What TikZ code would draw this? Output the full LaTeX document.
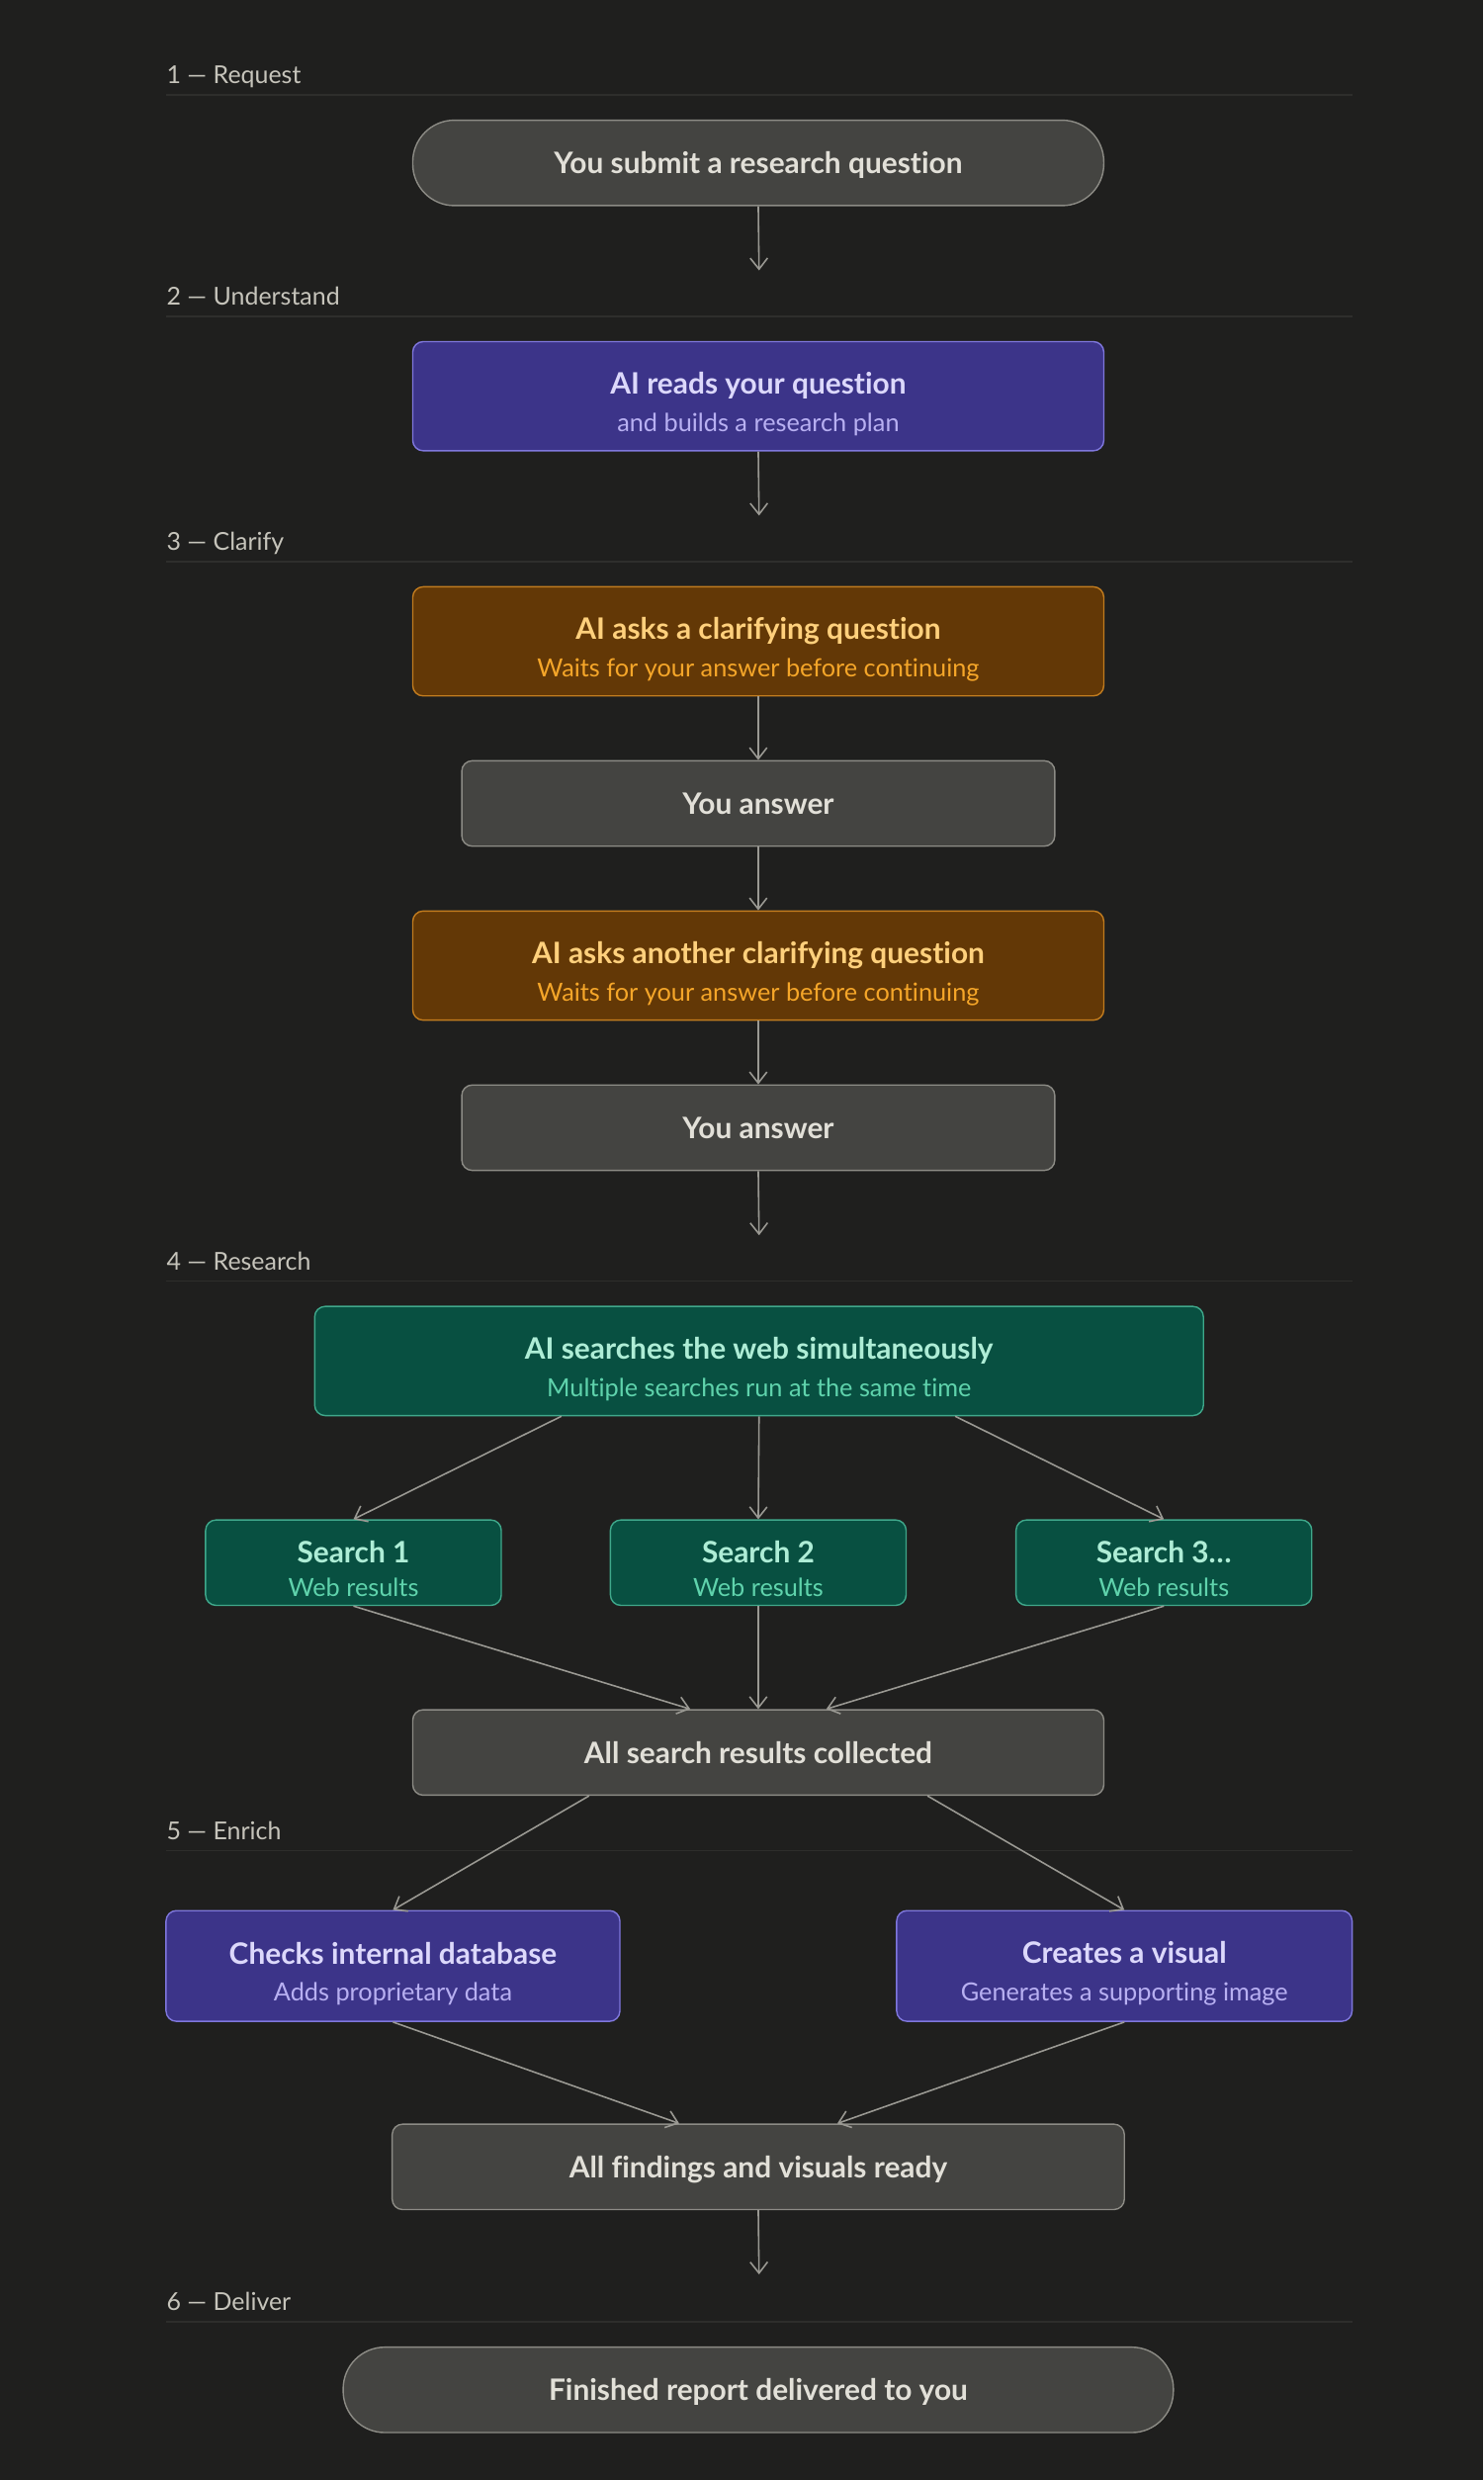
\documentclass[tikz,border=0pt]{standalone}
\usepackage{fontspec}
\setmainfont{Lato}[BoldFont={Lato Bold},Ligatures=NoCommon]
\usetikzlibrary{arrows.meta,calc}
\definecolor{bg}{HTML}{1F1F1E}
\definecolor{rulec}{HTML}{2E2E2C}
\definecolor{labelc}{HTML}{C6C4BB}
\definecolor{arrowc}{HTML}{9A9993}
\definecolor{grayfill}{HTML}{444441}
\definecolor{grayline}{HTML}{8C8B85}
\definecolor{graytext}{HTML}{E2E0D8}
\definecolor{purfill}{HTML}{3C3489}
\definecolor{purline}{HTML}{7F77DD}
\definecolor{purtitle}{HTML}{DCD8FB}
\definecolor{pursub}{HTML}{B8B0F2}
\definecolor{orfill}{HTML}{633806}
\definecolor{orline}{HTML}{C27C1E}
\definecolor{ortitle}{HTML}{FFD07C}
\definecolor{orsub}{HTML}{F5A629}
\definecolor{grfill}{HTML}{085041}
\definecolor{grline}{HTML}{3FA88B}
\definecolor{grtitle}{HTML}{AEEDD6}
\definecolor{grsub}{HTML}{5FD3AC}
\newlength\U
\setlength\U{0.016cm}
\newcommand\ttl{\fontsize{8.5pt}{11pt}\selectfont\bfseries}
\newcommand\sbt{\fontsize{7.2pt}{9pt}\selectfont}
\newcommand\bigstrut{\rule{0pt}{10.8pt}}
\newcommand\smstrut{\rule{0pt}{9.8pt}}
\begin{document}
\begin{tikzpicture}[x=0.016cm,y=-0.016cm,
  box/.style={draw, rounded corners=3pt, line width=0.4pt, align=center, inner sep=0pt},
  graybox/.style={box, fill=grayfill, draw=grayline, text=graytext, font=\ttl, text depth=0pt},
  pill/.style={graybox, rounded corners=12pt},
  purbox/.style={box, fill=purfill, draw=purline},
  orbox/.style={box, fill=orfill, draw=orline},
  grbox/.style={box, fill=grfill, draw=grline},
  seclabel/.style={anchor=base west, inner sep=0pt, text=labelc, font=\fontsize{7.1pt}{8pt}\selectfont},
  secrule/.style={draw=rulec, line width=0.5pt},
  conn/.style={draw=arrowc, line width=0.45pt, -{Straight Barb[length=3.2pt,width=5pt,line width=0.45pt]}}
]
\fill[bg] (0,0) rectangle (938,1568);
\useasboundingbox (0,0) rectangle (938,1568);

% section labels and rules
\node[seclabel] (l1) at (105,53) {1 — Request};
\draw[secrule] (105,60) -- (855,60);
\node[seclabel] (l2) at (105,193) {2 — Understand};
\draw[secrule] (105,200) -- (855,200);
\node[seclabel] (l3) at (105,348) {3 — Clarify};
\draw[secrule] (105,355) -- (855,355);
\node[seclabel] (l4) at (105,803) {4 — Research};
\draw[secrule] (105,810) -- (855,810);
\node[seclabel] (l5) at (105,1163) {5 — Enrich};
\draw[secrule] (105,1170) -- (855,1170);
\node[seclabel] (l6) at (105,1461) {6 — Deliver};
\draw[secrule] (105,1468) -- (855,1468);

% nodes
\node[pill, minimum width=437*\U, minimum height=54*\U] (n1) at (479.5,103) {You submit a research question};
\node[purbox, minimum width=437*\U, minimum height=69*\U] (n2) at (479.5,250.5)
  {{\ttl\color{purtitle}\bigstrut AI reads your question}\\[-1.2pt]{\sbt\color{pursub}and builds a research plan}};
\node[orbox, minimum width=437*\U, minimum height=69*\U] (n3) at (479.5,405.5)
  {{\ttl\color{ortitle}\bigstrut AI asks a clarifying question}\\[-1.2pt]{\sbt\color{orsub}Waits for your answer before continuing}};
\node[graybox, minimum width=375*\U, minimum height=54*\U] (n4) at (479.5,508) {You answer};
\node[orbox, minimum width=437*\U, minimum height=69*\U] (n5) at (479.5,610.5)
  {{\ttl\color{ortitle}\bigstrut AI asks another clarifying question}\\[-1.2pt]{\sbt\color{orsub}Waits for your answer before continuing}};
\node[graybox, minimum width=375*\U, minimum height=54*\U] (n6) at (479.5,713) {You answer};
\node[grbox, minimum width=562*\U, minimum height=69*\U] (n7) at (480,860.5)
  {{\ttl\color{grtitle}\bigstrut AI searches the web simultaneously}\\[-1.2pt]{\sbt\color{grsub}Multiple searches run at the same time}};
\node[grbox, minimum width=187*\U, minimum height=54*\U] (s1) at (223.5,988)
  {{\ttl\color{grtitle}\smstrut Search 1}\\[-2.4pt]{\sbt\color{grsub}Web results}};
\node[grbox, minimum width=187*\U, minimum height=54*\U] (s2) at (479.5,988)
  {{\ttl\color{grtitle}\smstrut Search 2}\\[-2.4pt]{\sbt\color{grsub}Web results}};
\node[grbox, minimum width=187*\U, minimum height=54*\U] (s3) at (736,988)
  {{\ttl\color{grtitle}\smstrut Search 3…}\\[-2.4pt]{\sbt\color{grsub}Web results}};
\node[graybox, minimum width=437*\U, minimum height=54*\U] (col) at (479.5,1108) {All search results collected};
\node[purbox, minimum width=287*\U, minimum height=70*\U] (chk) at (248.5,1243)
  {{\ttl\color{purtitle}\bigstrut Checks internal database}\\[-1.2pt]{\sbt\color{pursub}Adds proprietary data}};
\node[purbox, minimum width=288*\U, minimum height=70*\U] (vis) at (711,1243)
  {{\ttl\color{purtitle}\bigstrut Creates a visual}\\[-1.2pt]{\sbt\color{pursub}Generates a supporting image}};
\node[graybox, minimum width=463*\U, minimum height=54*\U] (fin) at (479.5,1370) {All findings and visuals ready};
\node[pill, minimum width=525*\U, minimum height=54*\U] (del) at (479.5,1511) {Finished report delivered to you};

% free arrow ends
\coordinate (e1) at (480,171);
\coordinate (e2) at (480,326);
\coordinate (e6) at (480,781);
\coordinate (ef) at (480,1438);

% connectors
\draw[conn] (n1.south) -- (e1);
\draw[conn] (n2.south) -- (e2);
\draw[conn] (n3.south) -- (n4.north);
\draw[conn] (n4.south) -- (n5.north);
\draw[conn] (n5.south) -- (n6.north);
\draw[conn] (n6.south) -- (e6);
\draw[conn] ($(n7.south)+(-125,0)$) -- (s1.north);
\draw[conn] (n7.south) -- (s2.north);
\draw[conn] ($(n7.south)+(124,0)$) -- (s3.north);
\draw[conn] (s1.south) -- ($(col.north)+(-43,0)$);
\draw[conn] (s2.south) -- (col.north);
\draw[conn] (s3.south) -- ($(col.north)+(43,0)$);
\draw[conn] ($(col.south)+(-107,0)$) -- (chk.north);
\draw[conn] ($(col.south)+(107,0)$) -- (vis.north);
\draw[conn] (chk.south) -- ($(fin.north)+(-50,0)$);
\draw[conn] (vis.south) -- ($(fin.north)+(50,0)$);
\draw[conn] (fin.south) -- (ef);
\end{tikzpicture}
\end{document}
